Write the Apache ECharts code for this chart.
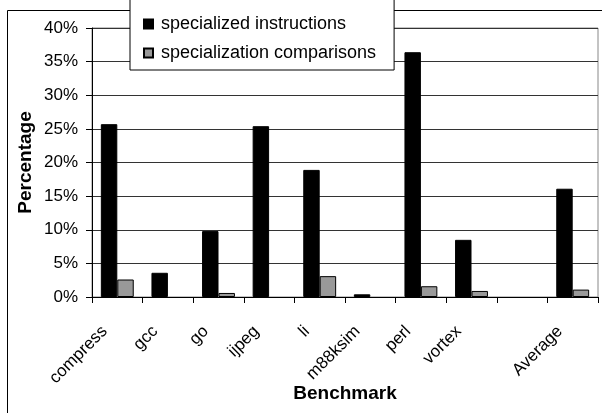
<!DOCTYPE html>
<html>
<head>
<meta charset="utf-8">
<script src="https://cdn.jsdelivr.net/npm/echarts@6/dist/echarts.min.js"></script>
<style>
    html, body { margin: 0; padding: 0; background: #fff; }
    #main { width: 602px; height: 413px; }
</style>
</head>
<body>
<div id="main"></div>
<script>
    // benchmarks (one empty slot before Average, as in the original)
    var benchmarks = ['compress', 'gcc', 'go', 'ijpeg', 'li', 'm88ksim', 'perl', 'vortex', '', 'Average'];
    var specInstr = [25.7, 3.6, 9.8, 25.4, 18.9, 0.4, 36.4, 8.5, null, 16.1];
    var specComp = [2.6, 0, 0.6, 0, 3.1, 0, 1.6, 0.9, null, 1.1];
    var seriesNames = ['specialized instructions', 'specialization comparisons'];

    var font = 'Liberation Sans, Arial, sans-serif';
    var myChart = echarts.init(document.getElementById('main'));

    // zero values are not drawn at all in the original
    function hideZero(arr) {
        return arr.map(function (v) {
            return v === 0 ? null : v;
        });
    }

    myChart.setOption({
        animation: false,
        textStyle: {fontFamily: font},
        graphic: [{
            type: 'rect',
            z: -10,
            silent: true,
            shape: {x: 7.5, y: 10.5, width: 620, height: 420},
            style: {fill: 'none', stroke: '#000', lineWidth: 1}
        }],
        legend: {
            orient: 'vertical',
            left: 130,
            top: -2,
            padding: [17, 18, 8, 13],
            itemGap: 11,
            itemWidth: 9,
            itemHeight: 9,
            backgroundColor: '#fff',
            borderColor: '#000',
            borderWidth: 1,
            borderRadius: 0,
            z: 10,
            data: seriesNames.map(function (n) {
                return {name: n, icon: 'rect'};
            }),
            textStyle: {fontFamily: font, fontSize: 18, color: '#000', padding: [0, 0, 0, 3]}
        },
        grid: {
            left: 92,
            right: 4,
            top: 28,
            bottom: 116,
            outerBoundsMode: 'none',
            containLabel: false,
            show: true,
            borderColor: '#888',
            borderWidth: 1
        },
        xAxis: {
            type: 'category',
            data: benchmarks,
            name: 'Benchmark',
            nameLocation: 'middle',
            nameGap: 87,
            nameMoveOverlap: false,
            nameTextStyle: {fontFamily: font, fontSize: 19, fontWeight: 'bold', color: '#000'},
            axisLine: {lineStyle: {color: '#000', width: 1}},
            axisTick: {show: true, interval: 0, length: 6, lineStyle: {color: '#000'}},
            axisLabel: {interval: 0, rotate: 45, fontSize: 17, color: '#000', margin: 19, padding: [0, 18, 0, 0]}
        },
        yAxis: {
            type: 'value',
            min: 0,
            max: 40,
            interval: 5,
            name: 'Percentage',
            nameLocation: 'middle',
            nameGap: 57,
            nameMoveOverlap: false,
            nameTextStyle: {fontFamily: font, fontSize: 19, fontWeight: 'bold', color: '#000'},
            axisLine: {show: true, lineStyle: {color: '#000', width: 1}},
            axisTick: {show: true, length: 6, lineStyle: {color: '#000'}},
            axisLabel: {formatter: '{value}%', fontSize: 17, color: '#000', margin: 14},
            splitLine: {lineStyle: {color: '#333', width: 1}}
        },
        series: [
            {
                name: seriesNames[0],
                type: 'bar',
                data: hideZero(specInstr),
                barGap: '0%',
                barCategoryGap: '35%',
                itemStyle: {color: '#000', borderColor: '#000', borderWidth: 1}
            },
            {
                name: seriesNames[1],
                type: 'bar',
                data: hideZero(specComp),
                itemStyle: {color: '#999', borderColor: '#000', borderWidth: 1}
            }
        ]
    });
</script>
</body>
</html>
